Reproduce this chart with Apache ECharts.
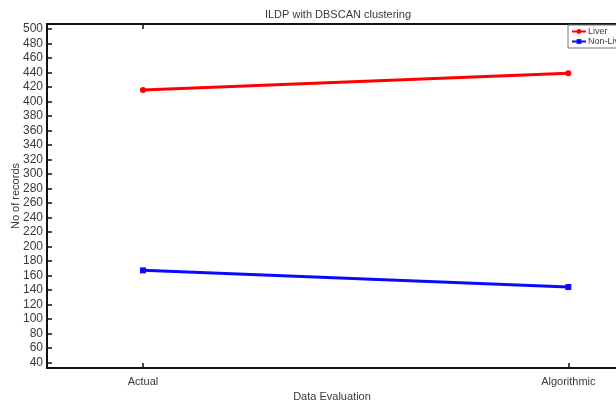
<!DOCTYPE html>
<html><head><meta charset="utf-8">
<script src="https://cdn.jsdelivr.net/npm/echarts@6/dist/echarts.min.js"></script>
<style>html,body{margin:0;padding:0;background:#fff}#c{width:616px;height:403px}</style>
</head><body><div id="c"></div>
<script>
const categories = ['Actual', 'Algorithmic'];
const liver = [416, 439];
const nonLiver = [167, 144];
const yTicks = [40,60,80,100,120,140,160,180,200,220,240,260,280,300,320,340,360,380,400,420,440,460,480,500];

const catPos = categories.map((c, i) => i + 1);
const toPairs = arr => arr.map((v, i) => [catPos[i], v]);
const FONT = 'Liberation Sans, Arial, sans-serif';
const TXT = '#3a3a3a';

const chart = echarts.init(document.getElementById('c'), null, {renderer: 'canvas'});
chart.setOption({
  animation: false,
  backgroundColor: '#fff',
  title: {
    text: 'ILDP with DBSCAN clustering',
    left: 333, top: 4, textAlign: 'center',
    textStyle: {fontFamily: FONT, fontSize: 11, fontWeight: 'normal', color: TXT}
  },
  legend: {
    data: ['Liver', 'Non-Liver'],
    orient: 'vertical', left: 568, top: 25,
    padding: [2, 4, 2, 3], itemGap: 1, itemWidth: 14, itemHeight: 6,
    borderColor: '#777', borderWidth: 1, backgroundColor: '#fff',
    textStyle: {fontFamily: FONT, fontSize: 9, color: TXT, padding: [0, 0, 0, -3]}
  },
  grid: {left: 47, top: 24, width: 570, height: 344, containLabel: false, outerBoundsMode: 'none'},
  xAxis: [{
    type: 'value', min: 0.7744, max: 2.1144, position: 'bottom',
    name: 'Data Evaluation', nameLocation: 'middle', nameGap: 22,
    nameTextStyle: {fontFamily: FONT, fontSize: 11, color: TXT},
    axisLine: {show: true, onZero: false, lineStyle: {color: '#111', width: 2}},
    axisTick: {show: true, inside: true, length: 5, customValues: catPos, lineStyle: {color: '#111', width: 1.5}},
    axisLabel: {customValues: catPos, formatter: v => categories[Math.round(v) - 1] || '', margin: 8,
      fontFamily: FONT, fontSize: 11, color: TXT},
    splitLine: {show: false}
  }, {
    type: 'value', min: 0.7744, max: 2.1144, position: 'top',
    axisLine: {show: true, onZero: false, lineStyle: {color: '#111', width: 2}},
    axisTick: {show: true, inside: true, length: 5, customValues: catPos, lineStyle: {color: '#111', width: 1.5}},
    axisLabel: {show: false},
    splitLine: {show: false}
  }],
  yAxis: {
    type: 'value', min: 32.3, max: 506.9,
    name: 'No of records', nameLocation: 'middle', nameGap: 26, nameMoveOverlap: false,
    nameTextStyle: {fontFamily: FONT, fontSize: 11, color: TXT},
    axisLine: {show: true, onZero: false, lineStyle: {color: '#111', width: 2}},
    axisTick: {show: true, inside: true, length: 5, customValues: yTicks, lineStyle: {color: '#111', width: 1.5}},
    axisLabel: {customValues: yTicks, margin: 4, fontFamily: FONT, fontSize: 12, color: TXT},
    splitLine: {show: false}
  },
  series: [{
    name: 'Liver', type: 'line', data: toPairs(liver),
    symbol: 'circle', symbolSize: 6,
    lineStyle: {color: '#ff0000', width: 3}, itemStyle: {color: '#ff0000'}
  }, {
    name: 'Non-Liver', type: 'line', data: toPairs(nonLiver),
    symbol: 'rect', symbolSize: 6,
    lineStyle: {color: '#0a0aff', width: 3}, itemStyle: {color: '#0a0aff'}
  }]
});
</script></body></html>
